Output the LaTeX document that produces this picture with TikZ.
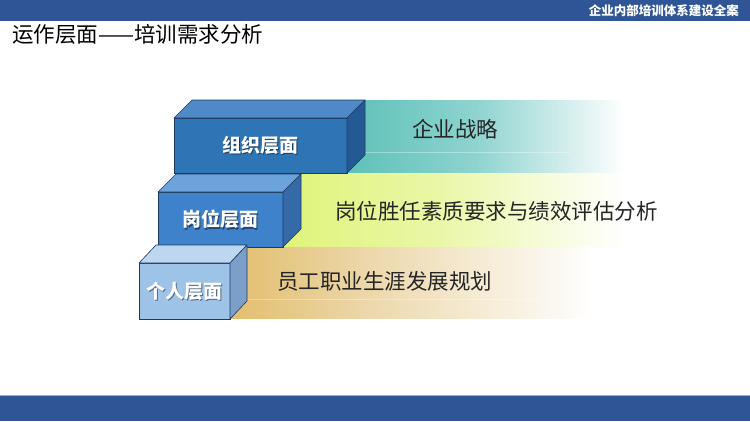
\documentclass[tikz,border=0pt]{standalone}
\usepackage{fontspec}
\setmainfont{Noto Sans CJK SC}
\usetikzlibrary{calc}
\definecolor{barblue}{HTML}{2F5597}
\definecolor{barline}{HTML}{9AACCD}
\definecolor{edgec}{HTML}{1F3A5F}
\definecolor{cAfront}{HTML}{2E75B6}
\definecolor{cAtop}{HTML}{4F89C8}
\definecolor{cAside}{HTML}{245A93}
\definecolor{cBfront}{HTML}{3F82CC}
\definecolor{cBtop}{HTML}{6DA3DB}
\definecolor{cBside}{HTML}{3569A8}
\definecolor{cCfront}{HTML}{9DC3E6}
\definecolor{cCtop}{HTML}{BDD7EE}
\definecolor{cCside}{HTML}{7B9FC8}
\definecolor{tealL}{HTML}{5EC1B9}
\definecolor{tealM}{HTML}{8ED3CF}
\definecolor{limeL}{HTML}{DFF47A}
\definecolor{limeM}{HTML}{EAF7A8}
\definecolor{goldL}{HTML}{E2BE6E}
\definecolor{goldM}{HTML}{EDD9AE}
\definecolor{txt}{HTML}{262626}
\pgfdeclarehorizontalshading{bandteal}{100bp}{color(0bp)=(tealL); color(25bp)=(tealL); color(48bp)=(tealM); color(75bp)=(white); color(100bp)=(white)}
\pgfdeclarehorizontalshading{bandlime}{100bp}{color(0bp)=(limeL); color(25bp)=(limeL); color(48bp)=(limeM); color(75bp)=(white); color(100bp)=(white)}
\pgfdeclarehorizontalshading{bandgold}{100bp}{color(0bp)=(goldL); color(25bp)=(goldL); color(45bp)=(goldM); color(75bp)=(white); color(100bp)=(white)}
\tikzset{
  facebox/.style={draw=edgec, line width=0.6pt, outer sep=0pt, inner sep=0pt, text=white,
    font=\bfseries\fontsize{19}{22}\selectfont,
    path picture={\node[text=black, opacity=0.45, inner sep=0pt, font=\bfseries\fontsize{19}{22}\selectfont]
      at ([xshift=1.3pt,yshift=-1.3pt]path picture bounding box.center) {#1};}},
  edgeline/.style={draw=edgec, line width=0.6pt, line join=round},
  bandtext/.style={inner sep=0pt, text=txt, font=\fontsize{21.5}{25}\selectfont},
  gloss/.style={white, opacity=0.35, line width=1pt}
}
\begin{document}
\begin{tikzpicture}[x=1pt,y=-1pt]
\useasboundingbox (0,0) rectangle (750,421);
\fill[white] (0,0) rectangle (750,421);
% header
\fill[barblue] (0,0) rectangle (750,21);
\node[anchor=east, text=white, inner sep=0pt, font=\bfseries\fontsize{12.5}{14}\selectfont] (hdr) at (739,11) {企业内部培训体系建设全案};
\node[anchor=west, inner sep=0pt, text=black, font=\fontsize{21.5}{25}\selectfont] (title) at (12,34) {运作层面——培训需求分析};
% footer
\fill[barblue] (0,396) rectangle (750,421);
\draw[barline, line width=1pt] (0,395.5) -- (750,395.5);
% bands
\shade[shading=bandteal] (347,100) rectangle (625,173);
\draw[gloss] (365,152) -- (570,152);
\shade[shading=bandlime] (283,173) rectangle (625,247);
\shade[shading=bandgold] (230,247) rectangle (595,318);
\draw[gloss] (247,299) -- (540,299);
% box A
\node[facebox=组织层面, fill=cAfront, minimum width=173pt, minimum height=55pt] (org) at (260.5,145.5) {组织层面};
\draw[edgeline, fill=cAtop] (org.north west) -- ++(18,-18) -- ($(org.north east)+(18,-18)$) -- (org.north east) -- cycle;
\draw[edgeline, fill=cAside] (org.north east) -- ++(18,-18) -- ++(0,55) -- (org.south east) -- cycle;
% box B
\node[facebox=岗位层面, fill=cBfront, minimum width=125pt, minimum height=55pt] (pos) at (220.5,219.5) {岗位层面};
\draw[edgeline, fill=cBtop] (pos.north west) -- ++(18,-18) -- ($(pos.north east)+(18,-18)$) -- (pos.north east) -- cycle;
\draw[edgeline, fill=cBside] (pos.north east) -- ++(18,-18) -- ++(0,55) -- (pos.south east) -- cycle;
% box C
\node[facebox=个人层面, fill=cCfront, minimum width=91pt, minimum height=56pt] (ind) at (184.5,291) {个人层面};
\draw[edgeline, fill=cCtop] (ind.north west) -- ++(17,-18) -- ($(ind.north east)+(17,-18)$) -- (ind.north east) -- cycle;
\draw[edgeline, fill=cCside] (ind.north east) -- ++(17,-18) -- ++(0,56) -- (ind.south east) -- cycle;
% band texts
\node[bandtext, anchor=center] (t1) at (455,129) {企业战略};
\node[bandtext, anchor=west] (t2) at (335,211) {岗位胜任素质要求与绩效评估分析};
\node[bandtext, anchor=west] (t3) at (277,281) {员工职业生涯发展规划};
\end{tikzpicture}
\end{document}
